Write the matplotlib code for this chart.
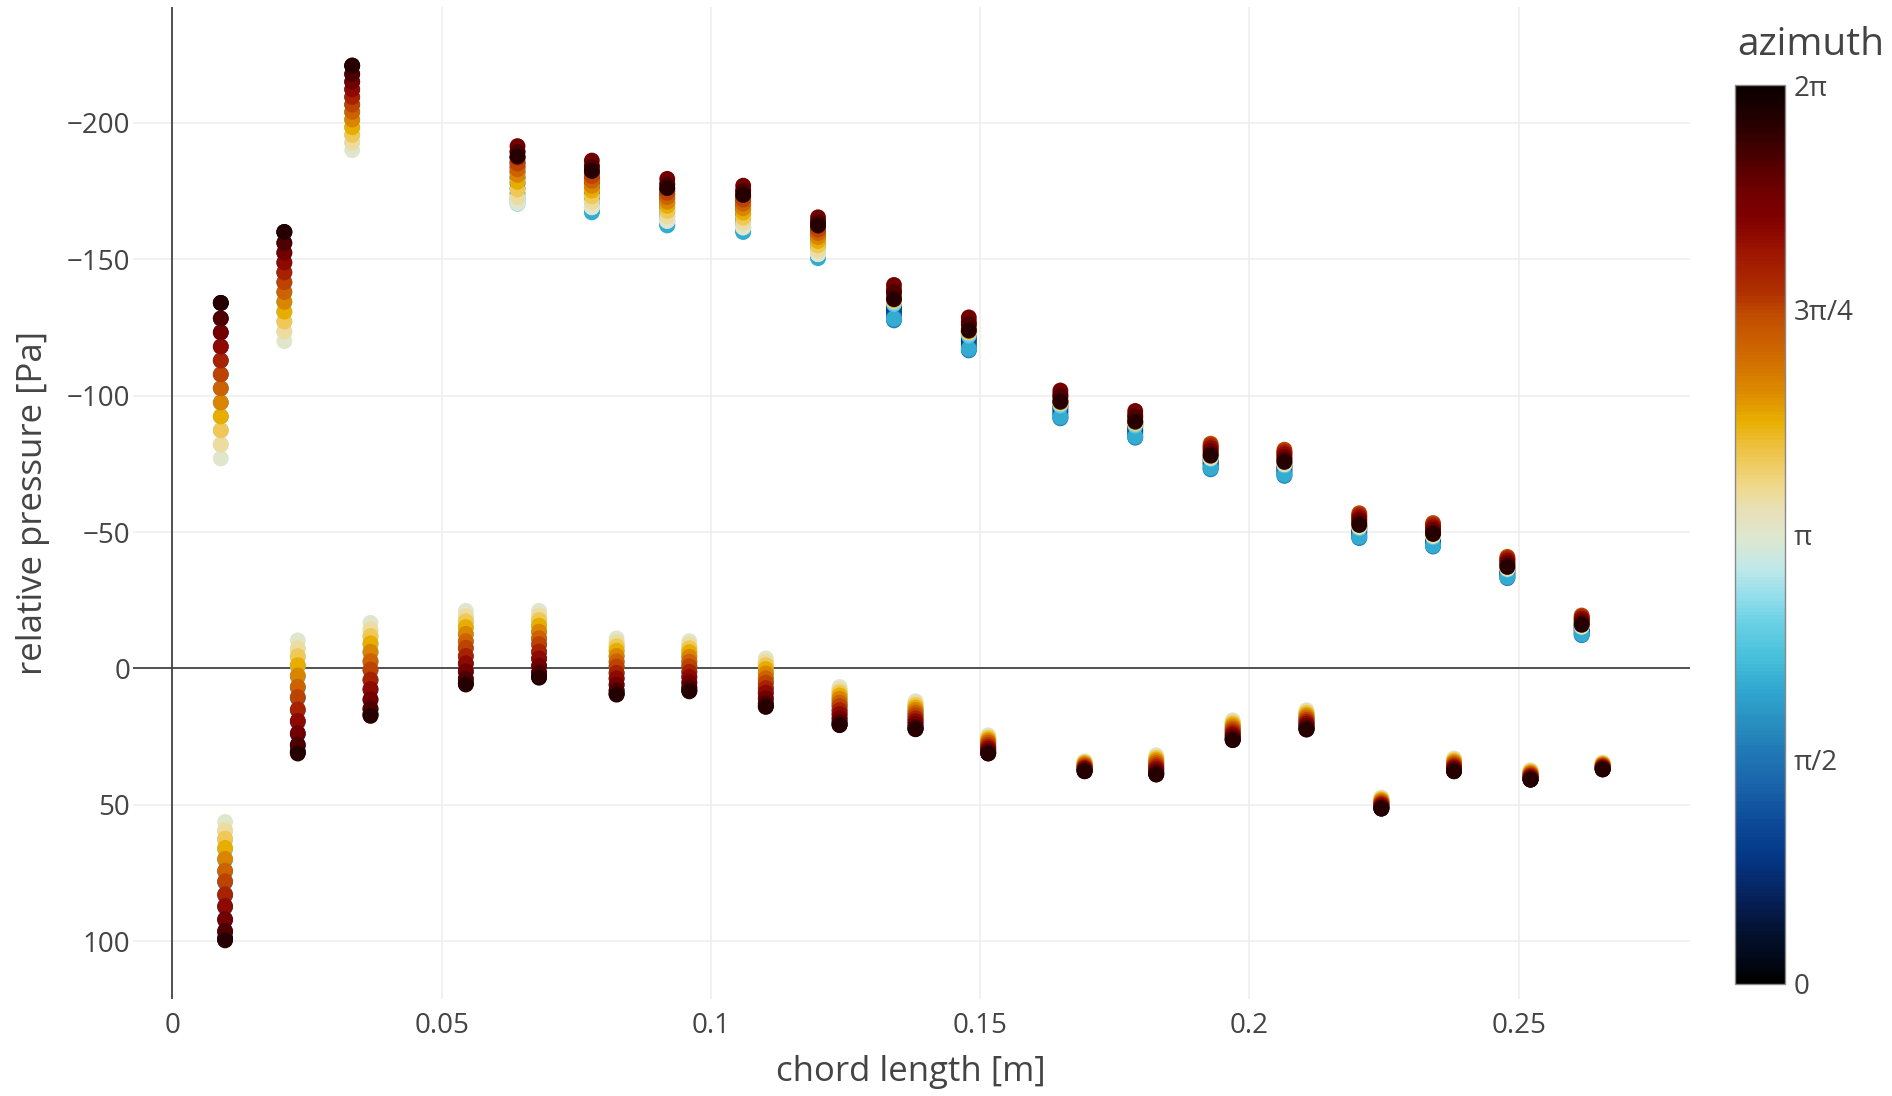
"""
Pressure distribution around the chord, coloured by azimuth
"""

import numpy as np
import matplotlib
matplotlib.use('Agg')
import matplotlib.pyplot as plt
from matplotlib.colors import LinearSegmentedColormap
from matplotlib.ticker import FuncFormatter

plt.rcParams['font.family'] = ['Open Sans', 'DejaVu Sans']

# azimuth of the 24 pressure taps round each station [rad]
azimuth = [0.0, 0.2618, 0.5236, 0.7854, 1.0472, 1.3090, 1.5708, 1.8326,
           2.0944, 2.3562, 2.6180, 2.8798, 3.1416, 3.4034, 3.6652, 3.9270,
           4.1888, 4.4506, 4.7124, 4.9742, 5.2360, 5.4978, 5.7596, 6.0214]

# upper side stations: chord position [m] and pressure [Pa] per azimuth
x_upper = [0.0090, 0.0208, 0.0334, 0.0641, 0.0779, 0.0919, 0.1060, 0.1199, 0.1340,
           0.1479, 0.1649, 0.1788, 0.1928, 0.2065, 0.2204, 0.2341, 0.2479, 0.2617]
p_upper = [
    [-134, -134, -128.3, -123.2, -118, -112.9, -107.8, -102.7, -97.5, -92.4, -87.3, -82.1,
     -77, -82.1, -87.3, -92.4, -97.5, -102.7, -107.8, -112.9, -118, -123.2, -128.3, -134],
    [-160, -160, -156, -152.4, -148.8, -145.2, -141.6, -138, -134.4, -130.8, -127.2, -123.6,
     -120, -123.6, -127.2, -130.8, -134.4, -138, -141.6, -145.2, -148.8, -152.4, -156, -160],
    [-221, -221, -217.9, -215.1, -212.3, -209.5, -206.7, -204, -201.2, -198.4, -195.6, -192.8,
     -190, -192.8, -195.6, -198.4, -201.2, -204, -206.7, -209.5, -212.3, -215.1, -217.9, -221],
    [-187.3, -185.6, -183.9, -182, -179.8, -177.9, -176, -174.1, -172.4, -171.1, -170.3, -170.5,
     -170.7, -172.8, -175.6, -178.4, -180.9, -183, -185.1, -187.3, -189.4, -191.5, -189.4, -187.7],
    [-181.5, -179.7, -178, -176.3, -174.6, -172.7, -171, -167.6, -167.2, -169.1, -169.1, -169.1,
     -169.1, -171, -173.1, -175.2, -176.9, -178.8, -180.5, -182.4, -184.3, -186.2, -183.9, -182.4],
    [-175.2, -173.7, -172.1, -170.6, -169.1, -167.4, -165.8, -162.7, -162.4, -164.1, -164.1, -164.1,
     -164.1, -165.8, -167.7, -169.6, -171.1, -172.8, -174.4, -176.1, -177.8, -179.5, -177.4, -176.1],
    [-172.8, -171.2, -169.7, -168.2, -166.6, -164.9, -163.4, -160.3, -160, -161.7, -161.7, -161.7,
     -161.7, -163.4, -165.3, -167.1, -168.7, -170.4, -171.9, -173.6, -175.3, -177, -175, -173.6],
    [-161.7, -160.3, -159, -157.6, -156.3, -154.8, -153.4, -150.7, -150.4, -151.9, -151.9, -151.9,
     -151.9, -153.4, -155.1, -156.7, -158.1, -159.6, -160.9, -162.4, -163.9, -165.4, -163.6, -162.4],
    [-134.8, -133.6, -132.4, -131.2, -130.1, -128.9, -127.6, -127.9, -128.3, -133.5, -134.1, -134.8,
     -134.8, -134.8, -134.9, -135.1, -135.3, -135.5, -136.1, -137.5, -139, -140.6, -138, -135.4],
    [-123.3, -122.2, -121.1, -120, -118.9, -117.8, -116.6, -116.8, -117.2, -122, -122.7, -123.3,
     -123.3, -123.3, -123.4, -123.6, -123.7, -124, -124.5, -125.8, -127.2, -128.7, -126.3, -123.9],
    [-97.3, -96.4, -95.5, -94.6, -93.6, -92.7, -91.7, -91.9, -92.2, -96.3, -96.8, -97.3,
     -97.3, -97.3, -97.4, -97.6, -97.7, -97.9, -98.3, -99.5, -100.7, -101.9, -99.9, -97.8],
    [-90, -89.1, -88.2, -87.3, -86.5, -85.6, -84.6, -84.8, -85.1, -89, -89.5, -90,
     -90, -90, -90.1, -90.3, -90.4, -90.6, -91, -92, -93.2, -94.4, -92.4, -90.5],
    [-77.5, -76.9, -76.2, -75.4, -74.7, -73.9, -73, -73.2, -73.5, -76.8, -77.2, -77.2,
     -77.2, -77.5, -78, -78.6, -79.9, -81.2, -82.4, -81.6, -80.8, -79.8, -78.7, -78],
    [-75.2, -74.5, -73.9, -73.1, -72.3, -71.6, -70.6, -70.8, -71.1, -74.4, -74.9, -74.9,
     -74.9, -75.2, -75.7, -76.4, -77.6, -79, -80.2, -79.4, -78.6, -77.5, -76.5, -75.7],
    [-52.2, -51.5, -50.9, -50.2, -49.4, -48.7, -47.8, -48, -48.3, -51.4, -51.9, -51.9,
     -51.9, -52.2, -52.6, -53.3, -54.4, -55.7, -56.9, -56.2, -55.4, -54.4, -53.4, -52.6],
    [-48.8, -48.2, -47.6, -46.9, -46.2, -45.6, -44.7, -44.9, -45.1, -48.1, -48.6, -48.6,
     -48.6, -48.8, -49.3, -49.9, -51, -52.2, -53.3, -52.6, -51.8, -50.9, -49.9, -49.3],
    [-36.8, -36.3, -35.8, -35.1, -34.5, -33.9, -33.1, -33.3, -33.5, -36.2, -36.6, -36.6,
     -36.6, -36.8, -37.2, -37.8, -38.8, -39.9, -40.9, -40.3, -39.6, -38.7, -37.9, -37.2],
    [-15.7, -15.2, -14.6, -14.1, -13.5, -12.9, -12.2, -12.3, -12.6, -15.1, -15.4, -15.4,
     -15.4, -15.7, -16, -16.5, -17.5, -18.5, -19.4, -18.8, -18.2, -17.4, -16.6, -16],
]

# lower side stations
x_lower = [0.0098, 0.0233, 0.0368, 0.0545, 0.0681, 0.0825, 0.0960, 0.1102, 0.1239, 0.1380,
           0.1515, 0.1694, 0.1827, 0.1969, 0.2106, 0.2245, 0.2380, 0.2522, 0.2656]
p_lower = [
    [99.3, 98.8, 96.7, 92.3, 87.5, 83.2, 78.4, 74.5, 70.2, 66.3, 62.8, 59.8,
     56.3, 59.3, 62.4, 65.8, 69.8, 74.1, 78, 82.8, 87.1, 91.9, 96.2, 99.7],
    [30.8, 30.4, 28.3, 24.1, 19.6, 15.4, 10.9, 7.1, 3, -0.8, -4.1, -7,
     -10.3, -7.4, -4.5, -1.2, 2.6, 6.7, 10.5, 15, 19.2, 23.7, 27.9, 31.2],
    [17.1, 16.7, 15, 11.6, 7.9, 4.4, 0.7, -2.4, -5.8, -8.9, -11.6, -14,
     -16.7, -14.3, -11.9, -9.2, -6.1, -2.7, 0.4, 4.1, 7.5, 11.3, 14.7, 17.4],
    [5.6, 5.4, 4, 1.3, -1.7, -4.4, -7.3, -9.8, -12.5, -14.9, -17.1, -18.9,
     -21.1, -19.2, -17.3, -15.2, -12.7, -10, -7.6, -4.6, -1.9, 1, 3.7, 5.9],
    [3.2, 2.9, 1.7, -0.8, -3.5, -5.9, -8.6, -10.8, -13.3, -15.5, -17.4, -19.1,
     -21.1, -19.4, -17.7, -15.7, -13.5, -11.1, -8.9, -6.2, -3.7, -1, 1.4, 3.4],
    [9.4, 9.2, 8.2, 6.1, 3.8, 1.8, -0.5, -2.3, -4.4, -6.3, -7.9, -9.4,
     -11, -9.6, -8.1, -6.5, -4.6, -2.6, -0.7, 1.6, 3.6, 5.9, 8, 9.6],
    [8.2, 8, 7.1, 5.3, 3.2, 1.4, -0.6, -2.3, -4.1, -5.8, -7.2, -8.5,
     -10, -8.7, -7.4, -6, -4.3, -2.5, -0.8, 1.2, 3.1, 5.1, 6.9, 8.4],
    [13.9, 13.7, 12.9, 11.1, 9.1, 7.3, 5.4, 3.8, 2, 0.4, -1, -2.3,
     -3.7, -2.5, -1.2, 0.2, 1.8, 3.6, 5.2, 7.2, 8.9, 10.9, 12.7, 14.1],
    [20.7, 20.5, 19.8, 18.4, 16.9, 15.5, 13.9, 12.7, 11.3, 10, 8.9, 7.9,
     6.8, 7.8, 8.8, 9.9, 11.1, 12.5, 13.8, 15.3, 16.7, 18.3, 19.7, 20.8],
    [22.2, 22.1, 21.6, 20.5, 19.4, 18.4, 17.3, 16.3, 15.3, 14.4, 13.5, 12.8,
     12, 12.7, 13.4, 14.3, 15.2, 16.2, 17.2, 18.3, 19.3, 20.4, 21.5, 22.3],
    [31.1, 31.1, 30.7, 30.1, 29.3, 28.7, 27.9, 27.3, 26.6, 26, 25.5, 25,
     24.5, 25, 25.4, 26, 26.6, 27.2, 27.9, 28.6, 29.3, 30, 30.7, 31.2],
    [37.7, 37.6, 37.4, 37.1, 36.7, 36.3, 35.9, 35.6, 35.2, 34.9, 34.6, 34.3,
     34, 34.3, 34.5, 34.8, 35.1, 35.5, 35.9, 36.3, 36.6, 37, 37.4, 37.7],
    [38.8, 38.8, 38.4, 37.7, 36.9, 36.2, 35.4, 34.8, 34.1, 33.4, 32.9, 32.4,
     31.8, 32.3, 32.8, 33.4, 34, 34.7, 35.4, 36.1, 36.8, 37.6, 38.3, 38.9],
    [26.2, 26.2, 25.8, 25.1, 24.3, 23.5, 22.7, 22.1, 21.3, 20.7, 20.1, 19.6,
     19, 19.5, 20, 20.6, 21.3, 22, 22.7, 23.5, 24.2, 25, 25.7, 26.3],
    [22.3, 22.3, 21.9, 21.2, 20.4, 19.7, 18.9, 18.3, 17.6, 16.9, 16.4, 15.9,
     15.3, 15.8, 16.3, 16.9, 17.5, 18.2, 18.9, 19.6, 20.3, 21.1, 21.8, 22.4],
    [51.4, 51.3, 51.1, 50.7, 50.3, 49.8, 49.4, 49, 48.6, 48.2, 47.9, 47.6,
     47.3, 47.6, 47.9, 48.2, 48.6, 49, 49.4, 49.8, 50.2, 50.7, 51.1, 51.4],
    [37.7, 37.6, 37.4, 36.9, 36.4, 35.9, 35.4, 35, 34.5, 34.1, 33.7, 33.4,
     33, 33.3, 33.7, 34, 34.5, 34.9, 35.4, 35.9, 36.3, 36.9, 37.3, 37.7],
    [40.8, 40.7, 40.6, 40.2, 39.8, 39.5, 39.1, 38.8, 38.4, 38.1, 37.8, 37.6,
     37.3, 37.5, 37.8, 38.1, 38.4, 38.7, 39.1, 39.4, 39.8, 40.2, 40.5, 40.8],
    [37, 37, 36.8, 36.6, 36.3, 36.1, 35.8, 35.6, 35.3, 35.1, 34.9, 34.7,
     34.5, 34.7, 34.9, 35.1, 35.3, 35.5, 35.8, 36, 36.3, 36.6, 36.8, 37],
]

cbar_ticks = [0, np.pi / 2, np.pi, 3 * np.pi / 2, 2 * np.pi]
cbar_labels = ['0', 'π/2', 'π', '3π/4', '2π']

# cyclic colour scale
cmap = LinearSegmentedColormap.from_list('azimuth', [
    (0.00, '#000000'), (0.064, '#041438'), (0.10, '#062460'), (0.142, '#043888'),
    (0.178, '#0c4a98'), (0.214, '#1860a8'), (0.256, '#2078b4'), (0.292, '#2890c0'),
    (0.327, '#30a8d0'), (0.363, '#48c0dc'), (0.40, '#68d0e4'), (0.434, '#98e0ec'),
    (0.463, '#c0e8e8'), (0.495, '#dce8d0'), (0.527, '#e8e0b8'), (0.555, '#f0d888'),
    (0.598, '#eec040'), (0.626, '#e8b000'), (0.66, '#dc8a00'), (0.70, '#d06a00'),
    (0.747, '#c04a00'), (0.77, '#b03000'), (0.81, '#a01800'), (0.854, '#800000'),
    (0.883, '#700000'), (0.955, '#2a0000'), (1.00, '#0a0000'),
])

n_az = len(azimuth)
xs = np.concatenate([np.repeat(x_upper, n_az), np.repeat(x_lower, n_az)])
ps = np.concatenate([np.ravel(p_upper), np.ravel(p_lower)])
cs = np.tile(azimuth, len(x_upper) + len(x_lower))

fig = plt.figure(figsize=(18.92, 10.96), dpi=100)
ax = fig.add_axes([0.0703, 0.0885, 0.8229, 0.9051])

ax.axhline(0, color='#444444', lw=1.3, zorder=2)
ax.axvline(0, color='#444444', lw=1.3, zorder=2)
sc = ax.scatter(xs, ps, c=cs, cmap=cmap, vmin=0, vmax=2 * np.pi,
                s=130, edgecolors='none', zorder=3)

ax.set_xlim(-0.0073, 0.2818)
ax.set_ylim(121.2, -242.5)
ax.set_xticks([0, 0.05, 0.1, 0.15, 0.2, 0.25])
ax.set_yticks([-200, -150, -100, -50, 0, 50, 100])
ax.xaxis.set_major_formatter(FuncFormatter(lambda v, _: f'{v:g}'))
ax.grid(color='#eeeeee', lw=1.1, zorder=0)
ax.set_axisbelow(True)
for sp in ax.spines.values():
    sp.set_visible(False)
ax.tick_params(axis='both', length=0, labelsize=20, labelcolor='#444444')
ax.tick_params(axis='x', pad=9)
ax.tick_params(axis='y', pad=2)

fig.text(911 / 1892, 1 - 1072 / 1096, 'chord length [m]', ha='center', va='center',
         fontsize=25, color='#444444')
fig.text(33 / 1892, 1 - 503 / 1096, 'relative pressure [Pa]', ha='center', va='center',
         rotation=90, fontsize=25, color='#444444')

cax = fig.add_axes([1735 / 1892, 1 - 984 / 1096, 50 / 1892, 899 / 1096])
cb = fig.colorbar(sc, cax=cax)
cb.set_ticks(cbar_ticks)
cb.set_ticklabels(cbar_labels)
cb.ax.tick_params(length=0, pad=6, labelsize=20, labelcolor='#444444')
cb.outline.set_edgecolor('#888888')
cb.outline.set_linewidth(1)
fig.text(1737 / 1892, 1 - 45 / 1096, 'azimuth', ha='left', va='center',
         fontsize=28, color='#444444')

fig.savefig('out.png', dpi=100)
